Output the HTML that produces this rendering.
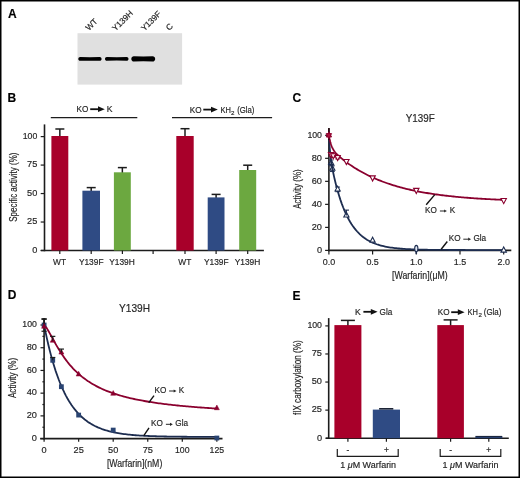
<!DOCTYPE html>
<html><head><meta charset="utf-8"><style>
html,body{margin:0;padding:0;background:#fff;}
svg{display:block;font-family:"Liberation Sans", sans-serif;}
#wrap{width:520px;height:478px;will-change:transform;}
text{stroke:#262626;stroke-width:0.18px;}
</style></head><body><div id="wrap">
<svg width="520" height="478" viewBox="0 0 520 478">
<defs><filter id="soft" x="-10%" y="-50%" width="120%" height="200%"><feGaussianBlur stdDeviation="0.35"/></filter></defs>
<rect width="520" height="478" fill="#fff"/>
<rect x="0.75" y="0.75" width="518.5" height="476.5" fill="none" stroke="#000" stroke-width="1.5"/>
<text x="8" y="18" font-size="12" font-weight="bold" fill="#000">A</text>
<text x="7.6" y="101.5" font-size="12" font-weight="bold" fill="#000">B</text>
<text x="292.5" y="101.6" font-size="12" font-weight="bold" fill="#000">C</text>
<text x="7.8" y="299.4" font-size="12" font-weight="bold" fill="#000">D</text>
<text x="292.4" y="299.6" font-size="12" font-weight="bold" fill="#000">E</text>
<rect x="77.5" y="33.2" width="104.6" height="51.4" fill="#e0e0e0"/>
<path d="M78.3,58.95 C78.3,57.932500000000005 79.1325,57.1 80.14999999999999,57.1 Q89.94999999999999,57.34 99.75,57.1 C100.7675,57.1 101.6,57.932500000000005 101.6,58.95 C101.6,59.9675 100.7675,60.800000000000004 99.75,60.800000000000004 Q89.94999999999999,60.56 80.14999999999999,60.800000000000004 C79.1325,60.800000000000004 78.3,59.9675 78.3,58.95 Z" fill="#050505" filter="url(#soft)"/>
<path d="M105.0,58.9 C105.0,57.91 105.81,57.1 106.8,57.1 Q116.75,57.339999999999996 126.7,57.1 C127.69,57.1 128.5,57.91 128.5,58.9 C128.5,59.89 127.69,60.699999999999996 126.7,60.699999999999996 Q116.75,60.46 106.8,60.699999999999996 C105.81,60.699999999999996 105.0,59.89 105.0,58.9 Z" fill="#050505" filter="url(#soft)"/>
<path d="M131.3,58.9 C131.3,57.47 132.47,56.3 133.9,56.3 Q143.25,56.62 152.6,56.3 C154.03,56.3 155.2,57.47 155.2,58.9 C155.2,60.33 154.03,61.5 152.6,61.5 Q143.25,61.18 133.9,61.5 C132.47,61.5 131.3,60.33 131.3,58.9 Z" fill="#050505" filter="url(#soft)"/>
<text transform="translate(89.0,31.0) rotate(-45)" font-size="8.3" fill="#262626">WT</text>
<text transform="translate(115.6,31.6) rotate(-45)" font-size="8.3" fill="#262626">Y139H</text>
<text transform="translate(144.4,31.6) rotate(-45)" font-size="8.3" fill="#262626">Y139F</text>
<text transform="translate(169.2,31.0) rotate(-45)" font-size="8.3" fill="#262626">C</text>
<line x1="44.5" y1="124.4" x2="44.5" y2="251.25" stroke="#1c1c1c" stroke-width="1.6"/>
<line x1="40.7" y1="250.5" x2="263.9" y2="250.5" stroke="#1c1c1c" stroke-width="1.6"/>
<line x1="40.7" y1="250.5" x2="44.5" y2="250.5" stroke="#1c1c1c" stroke-width="1.2"/>
<text x="37.3" y="252.8" font-size="9.2" text-anchor="end" fill="#262626" textLength="5.12" lengthAdjust="spacingAndGlyphs">0</text>
<line x1="40.7" y1="222.025" x2="44.5" y2="222.025" stroke="#1c1c1c" stroke-width="1.2"/>
<text x="37.3" y="224.33" font-size="9.2" text-anchor="end" fill="#262626" textLength="10.23" lengthAdjust="spacingAndGlyphs">25</text>
<line x1="40.7" y1="193.55" x2="44.5" y2="193.55" stroke="#1c1c1c" stroke-width="1.2"/>
<text x="37.3" y="195.85" font-size="9.2" text-anchor="end" fill="#262626" textLength="10.23" lengthAdjust="spacingAndGlyphs">50</text>
<line x1="40.7" y1="165.075" x2="44.5" y2="165.075" stroke="#1c1c1c" stroke-width="1.2"/>
<text x="37.3" y="167.38" font-size="9.2" text-anchor="end" fill="#262626" textLength="10.23" lengthAdjust="spacingAndGlyphs">75</text>
<line x1="40.7" y1="136.6" x2="44.5" y2="136.6" stroke="#1c1c1c" stroke-width="1.2"/>
<text x="37.3" y="138.9" font-size="9.2" text-anchor="end" fill="#262626" textLength="14.58" lengthAdjust="spacingAndGlyphs">100</text>
<line x1="59.849999999999994" y1="129.0" x2="59.849999999999994" y2="137.0" stroke="#1c1c1c" stroke-width="1.5"/>
<line x1="55.349999999999994" y1="129.0" x2="64.35" y2="129.0" stroke="#1c1c1c" stroke-width="1.5"/>
<rect x="51.4" y="136.0" width="16.9" height="114.5" fill="#a8002a"/>
<line x1="91.2" y1="187.6" x2="91.2" y2="191.7" stroke="#1c1c1c" stroke-width="1.5"/>
<line x1="86.7" y1="187.6" x2="95.7" y2="187.6" stroke="#1c1c1c" stroke-width="1.5"/>
<rect x="82.4" y="190.7" width="17.6" height="59.8" fill="#2f4b84"/>
<line x1="122.35000000000001" y1="167.6" x2="122.35000000000001" y2="173.3" stroke="#1c1c1c" stroke-width="1.5"/>
<line x1="117.85000000000001" y1="167.6" x2="126.85000000000001" y2="167.6" stroke="#1c1c1c" stroke-width="1.5"/>
<rect x="113.9" y="172.3" width="16.9" height="78.2" fill="#6ca840"/>
<line x1="185.0" y1="128.7" x2="185.0" y2="137.0" stroke="#1c1c1c" stroke-width="1.5"/>
<line x1="180.5" y1="128.7" x2="189.5" y2="128.7" stroke="#1c1c1c" stroke-width="1.5"/>
<rect x="176.3" y="136.0" width="17.4" height="114.5" fill="#a8002a"/>
<line x1="216.1" y1="194.4" x2="216.1" y2="198.4" stroke="#1c1c1c" stroke-width="1.5"/>
<line x1="211.6" y1="194.4" x2="220.6" y2="194.4" stroke="#1c1c1c" stroke-width="1.5"/>
<rect x="207.7" y="197.4" width="16.8" height="53.1" fill="#2f4b84"/>
<line x1="247.7" y1="165.2" x2="247.7" y2="171.0" stroke="#1c1c1c" stroke-width="1.5"/>
<line x1="243.2" y1="165.2" x2="252.2" y2="165.2" stroke="#1c1c1c" stroke-width="1.5"/>
<rect x="239.2" y="170.0" width="17.0" height="80.5" fill="#6ca840"/>
<line x1="59.8" y1="250.5" x2="59.8" y2="254.0" stroke="#1c1c1c" stroke-width="1.2"/>
<line x1="91.2" y1="250.5" x2="91.2" y2="254.0" stroke="#1c1c1c" stroke-width="1.2"/>
<line x1="122.4" y1="250.5" x2="122.4" y2="254.0" stroke="#1c1c1c" stroke-width="1.2"/>
<line x1="153.1" y1="250.5" x2="153.1" y2="254.0" stroke="#1c1c1c" stroke-width="1.2"/>
<line x1="185.0" y1="250.5" x2="185.0" y2="254.0" stroke="#1c1c1c" stroke-width="1.2"/>
<line x1="216.1" y1="250.5" x2="216.1" y2="254.0" stroke="#1c1c1c" stroke-width="1.2"/>
<line x1="247.7" y1="250.5" x2="247.7" y2="254.0" stroke="#1c1c1c" stroke-width="1.2"/>
<text x="59.6" y="264.8" font-size="8.8" text-anchor="middle" fill="#262626" textLength="13.0" lengthAdjust="spacingAndGlyphs">WT</text>
<text x="91.2" y="264.8" font-size="8.8" text-anchor="middle" fill="#262626" textLength="24.63" lengthAdjust="spacingAndGlyphs">Y139F</text>
<text x="122.0" y="264.8" font-size="8.8" text-anchor="middle" fill="#262626" textLength="25.56" lengthAdjust="spacingAndGlyphs">Y139H</text>
<text x="184.8" y="264.8" font-size="8.8" text-anchor="middle" fill="#262626" textLength="13.0" lengthAdjust="spacingAndGlyphs">WT</text>
<text x="216.3" y="264.8" font-size="8.8" text-anchor="middle" fill="#262626" textLength="24.63" lengthAdjust="spacingAndGlyphs">Y139F</text>
<text x="247.5" y="264.8" font-size="8.8" text-anchor="middle" fill="#262626" textLength="25.56" lengthAdjust="spacingAndGlyphs">Y139H</text>
<line x1="50.8" y1="117.7" x2="137.3" y2="117.7" stroke="#1c1c1c" stroke-width="1.3"/>
<line x1="172" y1="117.7" x2="272.1" y2="117.7" stroke="#1c1c1c" stroke-width="1.3"/>
<text x="76.6" y="112.2" font-size="8.6" fill="#262626" textLength="11.8" lengthAdjust="spacingAndGlyphs">KO</text>
<line x1="90.2" y1="109.2" x2="98.5" y2="109.2" stroke="#111" stroke-width="1.8"/>
<polygon points="98.0,106.3 104.8,109.2 98.0,112.10000000000001" fill="#111"/>
<text x="106.7" y="112.2" font-size="8.6" fill="#262626">K</text>
<text x="189.8" y="112.6" font-size="8.6" fill="#262626" textLength="11.8" lengthAdjust="spacingAndGlyphs">KO</text>
<line x1="203.3" y1="109.6" x2="211.5" y2="109.6" stroke="#111" stroke-width="1.8"/>
<polygon points="211.0,106.69999999999999 217.8,109.6 211.0,112.5" fill="#111"/>
<text x="220.6" y="112.6" font-size="8.6" fill="#262626" textLength="10.4" lengthAdjust="spacingAndGlyphs">KH</text>
<text x="231.1" y="115.0" font-size="6.2" fill="#262626">2</text>
<text x="237.2" y="112.6" font-size="8.6" fill="#262626" textLength="17.2" lengthAdjust="spacingAndGlyphs">(Gla)</text>
<text transform="translate(16.9,187.2) rotate(-90)" font-size="10.3" text-anchor="middle" fill="#262626" textLength="69.3" lengthAdjust="spacingAndGlyphs">Specific activity (%)</text>
<line x1="328.9" y1="128.0" x2="328.9" y2="251.20000000000002" stroke="#1c1c1c" stroke-width="1.6"/>
<line x1="328.09999999999997" y1="250.4" x2="511.3" y2="250.4" stroke="#1c1c1c" stroke-width="1.6"/>
<line x1="325.1" y1="250.4" x2="328.9" y2="250.4" stroke="#1c1c1c" stroke-width="1.2"/>
<text x="322.0" y="252.7" font-size="9.2" text-anchor="end" fill="#262626" textLength="5.12" lengthAdjust="spacingAndGlyphs">0</text>
<line x1="325.1" y1="227.38" x2="328.9" y2="227.38" stroke="#1c1c1c" stroke-width="1.2"/>
<text x="322.0" y="229.68" font-size="9.2" text-anchor="end" fill="#262626" textLength="10.23" lengthAdjust="spacingAndGlyphs">20</text>
<line x1="325.1" y1="204.36" x2="328.9" y2="204.36" stroke="#1c1c1c" stroke-width="1.2"/>
<text x="322.0" y="206.66" font-size="9.2" text-anchor="end" fill="#262626" textLength="10.23" lengthAdjust="spacingAndGlyphs">40</text>
<line x1="325.1" y1="181.34" x2="328.9" y2="181.34" stroke="#1c1c1c" stroke-width="1.2"/>
<text x="322.0" y="183.64" font-size="9.2" text-anchor="end" fill="#262626" textLength="10.23" lengthAdjust="spacingAndGlyphs">60</text>
<line x1="325.1" y1="158.32" x2="328.9" y2="158.32" stroke="#1c1c1c" stroke-width="1.2"/>
<text x="322.0" y="160.62" font-size="9.2" text-anchor="end" fill="#262626" textLength="10.23" lengthAdjust="spacingAndGlyphs">80</text>
<line x1="325.1" y1="135.3" x2="328.9" y2="135.3" stroke="#1c1c1c" stroke-width="1.2"/>
<text x="322.0" y="137.6" font-size="9.2" text-anchor="end" fill="#262626" textLength="14.58" lengthAdjust="spacingAndGlyphs">100</text>
<line x1="328.9" y1="250.4" x2="328.9" y2="254.4" stroke="#1c1c1c" stroke-width="1.2"/>
<text x="328.9" y="264.8" font-size="9.2" text-anchor="middle" fill="#262626" textLength="12.41" lengthAdjust="spacingAndGlyphs">0.0</text>
<line x1="372.59999999999997" y1="250.4" x2="372.59999999999997" y2="254.4" stroke="#1c1c1c" stroke-width="1.2"/>
<text x="372.6" y="264.8" font-size="9.2" text-anchor="middle" fill="#262626" textLength="12.41" lengthAdjust="spacingAndGlyphs">0.5</text>
<line x1="416.29999999999995" y1="250.4" x2="416.29999999999995" y2="254.4" stroke="#1c1c1c" stroke-width="1.2"/>
<text x="416.3" y="264.8" font-size="9.2" text-anchor="middle" fill="#262626" textLength="12.41" lengthAdjust="spacingAndGlyphs">1.0</text>
<line x1="460.0" y1="250.4" x2="460.0" y2="254.4" stroke="#1c1c1c" stroke-width="1.2"/>
<text x="460.0" y="264.8" font-size="9.2" text-anchor="middle" fill="#262626" textLength="12.41" lengthAdjust="spacingAndGlyphs">1.5</text>
<line x1="503.7" y1="250.4" x2="503.7" y2="254.4" stroke="#1c1c1c" stroke-width="1.2"/>
<text x="503.7" y="264.8" font-size="9.2" text-anchor="middle" fill="#262626" textLength="12.41" lengthAdjust="spacingAndGlyphs">2.0</text>
<text x="419.9" y="279.1" font-size="10.4" text-anchor="middle" fill="#262626" textLength="55.7" lengthAdjust="spacingAndGlyphs">[Warfarin](μM)</text>
<text transform="translate(300.9,189.1) rotate(-90)" font-size="10.3" text-anchor="middle" fill="#262626" textLength="39.4" lengthAdjust="spacingAndGlyphs">Activity (%)</text>
<text x="420.2" y="122.4" font-size="11" text-anchor="middle" fill="#262626" textLength="29" lengthAdjust="spacingAndGlyphs">Y139F</text>
<path d="M328.90,135.30 L329.12,139.32 L329.35,142.84 L329.57,145.95 L329.80,148.71 L330.02,151.20 L330.24,153.44 L330.47,155.49 L330.69,157.38 L330.92,159.13 L331.14,160.76 L331.37,162.29 L331.59,163.74 L331.81,165.12 L332.04,166.44 L332.26,167.71 L332.49,168.93 L332.71,170.11 L332.93,171.26 L333.16,172.38 L333.38,173.46 L333.61,174.53 L333.83,175.57 L334.05,176.59 L334.28,177.58 L334.50,178.57 L334.73,179.53 L334.95,180.48 L335.17,181.41 L335.40,182.33 L335.62,183.23 L335.85,184.12 L336.07,185.00 L336.30,185.87 L336.52,186.72 L336.74,187.56 L336.97,188.39 L337.19,189.21 L337.42,190.01 L337.64,190.81 L339.04,195.53 L340.43,199.87 L341.83,203.86 L343.22,207.53 L344.62,210.92 L346.01,214.03 L347.41,216.90 L348.80,219.54 L350.20,221.96 L351.59,224.20 L352.99,226.25 L354.39,228.15 L355.78,229.89 L357.18,231.50 L358.57,232.97 L359.97,234.33 L361.36,235.58 L362.76,236.73 L364.15,237.79 L365.55,238.77 L366.94,239.67 L368.34,240.49 L369.74,241.25 L371.13,241.95 L372.53,242.60 L373.92,243.19 L375.32,243.74 L376.71,244.24 L378.11,244.70 L379.50,245.13 L380.90,245.52 L382.29,245.88 L383.69,246.21 L385.09,246.52 L386.48,246.80 L387.88,247.06 L389.27,247.30 L390.67,247.52 L392.06,247.72 L393.46,247.90 L394.85,248.08 L396.25,248.23 L397.64,248.38 L399.04,248.51 L400.44,248.63 L401.83,248.75 L403.23,248.85 L404.62,248.95 L406.02,249.04 L407.41,249.12 L408.81,249.19 L410.20,249.26 L411.60,249.32 L412.99,249.38 L414.39,249.43 L415.79,249.48 L417.18,249.53 L418.58,249.57 L419.97,249.61 L421.37,249.65 L422.76,249.68 L424.16,249.71 L425.55,249.74 L426.95,249.76 L428.35,249.78 L429.74,249.81 L431.14,249.83 L432.53,249.84 L433.93,249.86 L435.32,249.88 L436.72,249.89 L438.11,249.90 L439.51,249.92 L440.90,249.93 L442.30,249.94 L443.70,249.95 L445.09,249.95 L446.49,249.96 L447.88,249.97 L449.28,249.98 L450.67,249.98 L452.07,249.99 L453.46,249.99 L454.86,250.00 L456.25,250.00 L457.65,250.01 L459.05,250.01 L460.44,250.01 L461.84,250.02 L463.23,250.02 L464.63,250.02 L466.02,250.03 L467.42,250.03 L468.81,250.03 L470.21,250.03 L471.60,250.03 L473.00,250.04 L474.40,250.04 L475.79,250.04 L477.19,250.04 L478.58,250.04 L479.98,250.04 L481.37,250.04 L482.77,250.04 L484.16,250.04 L485.56,250.05 L486.95,250.05 L488.35,250.05 L489.75,250.05 L491.14,250.05 L492.54,250.05 L493.93,250.05 L495.33,250.05 L496.72,250.05 L498.12,250.05 L499.51,250.05 L500.91,250.05 L502.30,250.05 L503.70,250.05" fill="none" stroke="#1d2d50" stroke-width="1.8" stroke-linejoin="round" stroke-linecap="round"/>
<path d="M328.90,135.30 L329.12,136.60 L329.35,137.80 L329.57,138.91 L329.80,139.94 L330.02,140.89 L330.24,141.78 L330.47,142.60 L330.69,143.37 L330.92,144.09 L331.14,144.76 L331.37,145.39 L331.59,145.98 L331.81,146.53 L332.04,147.06 L332.26,147.55 L332.49,148.02 L332.71,148.46 L332.93,148.89 L333.16,149.29 L333.38,149.67 L333.61,150.04 L333.83,150.39 L334.05,150.72 L334.28,151.05 L334.50,151.36 L334.73,151.66 L334.95,151.96 L335.17,152.24 L335.40,152.51 L335.62,152.78 L335.85,153.04 L336.07,153.30 L336.30,153.55 L336.52,153.79 L336.74,154.03 L336.97,154.26 L337.19,154.49 L337.42,154.71 L337.64,154.94 L339.04,156.25 L340.43,157.48 L341.83,158.64 L343.22,159.76 L344.62,160.85 L346.01,161.90 L347.41,162.92 L348.80,163.92 L350.20,164.88 L351.59,165.83 L352.99,166.75 L354.39,167.64 L355.78,168.52 L357.18,169.37 L358.57,170.20 L359.97,171.00 L361.36,171.79 L362.76,172.56 L364.15,173.31 L365.55,174.04 L366.94,174.75 L368.34,175.44 L369.74,176.12 L371.13,176.77 L372.53,177.41 L373.92,178.04 L375.32,178.65 L376.71,179.24 L378.11,179.82 L379.50,180.39 L380.90,180.94 L382.29,181.47 L383.69,181.99 L385.09,182.50 L386.48,183.00 L387.88,183.48 L389.27,183.95 L390.67,184.41 L392.06,184.86 L393.46,185.30 L394.85,185.72 L396.25,186.14 L397.64,186.54 L399.04,186.93 L400.44,187.32 L401.83,187.69 L403.23,188.06 L404.62,188.41 L406.02,188.76 L407.41,189.10 L408.81,189.42 L410.20,189.75 L411.60,190.06 L412.99,190.36 L414.39,190.66 L415.79,190.95 L417.18,191.23 L418.58,191.51 L419.97,191.77 L421.37,192.03 L422.76,192.29 L424.16,192.54 L425.55,192.78 L426.95,193.01 L428.35,193.24 L429.74,193.47 L431.14,193.69 L432.53,193.90 L433.93,194.11 L435.32,194.31 L436.72,194.50 L438.11,194.70 L439.51,194.88 L440.90,195.06 L442.30,195.24 L443.70,195.42 L445.09,195.58 L446.49,195.75 L447.88,195.91 L449.28,196.07 L450.67,196.22 L452.07,196.37 L453.46,196.51 L454.86,196.65 L456.25,196.79 L457.65,196.92 L459.05,197.05 L460.44,197.18 L461.84,197.30 L463.23,197.43 L464.63,197.54 L466.02,197.66 L467.42,197.77 L468.81,197.88 L470.21,197.98 L471.60,198.09 L473.00,198.19 L474.40,198.29 L475.79,198.38 L477.19,198.48 L478.58,198.57 L479.98,198.66 L481.37,198.74 L482.77,198.83 L484.16,198.91 L485.56,198.99 L486.95,199.07 L488.35,199.14 L489.75,199.22 L491.14,199.29 L492.54,199.36 L493.93,199.43 L495.33,199.50 L496.72,199.56 L498.12,199.63 L499.51,199.69 L500.91,199.75 L502.30,199.81 L503.70,199.86" fill="none" stroke="#8a002e" stroke-width="1.8" stroke-linejoin="round" stroke-linecap="round"/>
<line x1="331.08" y1="160.05" x2="331.08" y2="165.8" stroke="#1d2d50" stroke-width="1.0"/>
<line x1="328.68" y1="160.05" x2="333.47999999999996" y2="160.05" stroke="#1d2d50" stroke-width="1.0"/>
<line x1="328.68" y1="165.8" x2="333.47999999999996" y2="165.8" stroke="#1d2d50" stroke-width="1.0"/>
<polygon points="328.58,164.51 333.58,164.51 331.08,159.76" fill="none" stroke="#1d2d50" stroke-width="1.1"/>
<line x1="332.4" y1="165.8" x2="332.4" y2="171.56" stroke="#1d2d50" stroke-width="1.0"/>
<line x1="330.0" y1="165.8" x2="334.79999999999995" y2="165.8" stroke="#1d2d50" stroke-width="1.0"/>
<line x1="330.0" y1="171.56" x2="334.79999999999995" y2="171.56" stroke="#1d2d50" stroke-width="1.0"/>
<polygon points="329.90,170.26 334.90,170.26 332.40,165.51" fill="none" stroke="#1d2d50" stroke-width="1.1"/>
<line x1="337.64" y1="187.09" x2="337.64" y2="191.7" stroke="#1d2d50" stroke-width="1.0"/>
<line x1="335.24" y1="187.09" x2="340.03999999999996" y2="187.09" stroke="#1d2d50" stroke-width="1.0"/>
<line x1="335.24" y1="191.7" x2="340.03999999999996" y2="191.7" stroke="#1d2d50" stroke-width="1.0"/>
<polygon points="335.04,191.04 340.24,191.04 337.64,186.10" fill="white" stroke="#1d2d50" stroke-width="1.1"/>
<polygon points="343.78,217.06 348.98,217.06 346.38,212.12" fill="white" stroke="#1d2d50" stroke-width="1.1"/>
<polygon points="370.00,242.15 375.20,242.15 372.60,237.21" fill="white" stroke="#1d2d50" stroke-width="1.1"/>
<polygon points="501.00,252.11 506.40,252.11 503.70,246.98" fill="white" stroke="#1d2d50" stroke-width="1.1"/>
<ellipse cx="416.30" cy="248.60" rx="1.6" ry="3.2" fill="#dfe6f2" stroke="#1d2d50" stroke-width="1.1"/>
<line x1="416.3" y1="251.9" x2="416.3" y2="253.8" stroke="#1d2d50" stroke-width="1.6"/>
<line x1="346.38" y1="215.41" x2="346.38" y2="210.12" stroke="#1d2d50" stroke-width="1.1"/>
<line x1="343.78" y1="210.12" x2="348.98" y2="210.12" stroke="#1d2d50" stroke-width="1.1"/>
<line x1="328.9" y1="128.2" x2="328.9" y2="139.90400000000002" stroke="#2a0a14" stroke-width="1.6"/>
<polygon points="326.20,137.01 331.60,137.01 328.90,131.88" fill="#b0103c" stroke="#8a002e" stroke-width="0.9"/>
<polygon points="326.20,133.59 331.60,133.59 328.90,138.72" fill="#b0103c" stroke="#8a002e" stroke-width="0.9"/>
<line x1="331.08" y1="152.56" x2="331.08" y2="156.02" stroke="#8a002e" stroke-width="1.0"/>
<line x1="328.68" y1="152.56" x2="333.47999999999996" y2="152.56" stroke="#8a002e" stroke-width="1.0"/>
<line x1="328.68" y1="156.02" x2="333.47999999999996" y2="156.02" stroke="#8a002e" stroke-width="1.0"/>
<polygon points="328.38,152.58 333.78,152.58 331.08,157.71" fill="#fbe8ec" stroke="#8a002e" stroke-width="1.1"/>
<line x1="333.27" y1="153.72" x2="333.27" y2="157.17" stroke="#8a002e" stroke-width="1.0"/>
<line x1="330.87" y1="153.72" x2="335.66999999999996" y2="153.72" stroke="#8a002e" stroke-width="1.0"/>
<line x1="330.87" y1="157.17" x2="335.66999999999996" y2="157.17" stroke="#8a002e" stroke-width="1.0"/>
<polygon points="330.57,153.73 335.97,153.73 333.27,158.86" fill="#fbe8ec" stroke="#8a002e" stroke-width="1.1"/>
<line x1="337.64" y1="155.44" x2="337.64" y2="158.9" stroke="#8a002e" stroke-width="1.0"/>
<line x1="335.24" y1="155.44" x2="340.03999999999996" y2="155.44" stroke="#8a002e" stroke-width="1.0"/>
<line x1="335.24" y1="158.9" x2="340.03999999999996" y2="158.9" stroke="#8a002e" stroke-width="1.0"/>
<polygon points="334.94,155.46 340.34,155.46 337.64,160.59" fill="#fbe8ec" stroke="#8a002e" stroke-width="1.1"/>
<polygon points="343.68,159.49 349.08,159.49 346.38,164.62" fill="white" stroke="#8a002e" stroke-width="1.1"/>
<polygon points="369.90,175.83 375.30,175.83 372.60,180.96" fill="white" stroke="#8a002e" stroke-width="1.1"/>
<polygon points="413.60,188.38 419.00,188.38 416.30,193.51" fill="white" stroke="#8a002e" stroke-width="1.1"/>
<polygon points="501.00,198.51 506.40,198.51 503.70,203.64" fill="white" stroke="#8a002e" stroke-width="1.1"/>
<line x1="434.8" y1="194.6" x2="426.2" y2="204.8" stroke="#111" stroke-width="1.4"/>
<text x="425.0" y="212.9" font-size="8.8" fill="#262626" textLength="11.82" lengthAdjust="spacingAndGlyphs">KO</text>
<line x1="439.9" y1="211.0" x2="444.7" y2="211.0" stroke="#262626" stroke-width="1.0"/>
<polygon points="444.09999999999997,209.4 446.9,211.0 444.09999999999997,212.6" fill="#262626"/>
<text x="449.8" y="212.9" font-size="8.8" fill="#262626" textLength="5.46" lengthAdjust="spacingAndGlyphs">K</text>
<line x1="441.2" y1="249.3" x2="447.3" y2="241.5" stroke="#111" stroke-width="1.4"/>
<text x="448.8" y="241.2" font-size="8.8" fill="#262626" textLength="11.82" lengthAdjust="spacingAndGlyphs">KO</text>
<line x1="463.3" y1="239.2" x2="468.8" y2="239.2" stroke="#262626" stroke-width="1.0"/>
<polygon points="468.2,237.6 471.0,239.2 468.2,240.79999999999998" fill="#262626"/>
<text x="473.4" y="241.2" font-size="8.8" fill="#262626" textLength="12.74" lengthAdjust="spacingAndGlyphs">Gla</text>
<line x1="44.1" y1="318.0" x2="44.1" y2="439.40000000000003" stroke="#1c1c1c" stroke-width="1.6"/>
<line x1="40.2" y1="438.6" x2="222.5" y2="438.6" stroke="#1c1c1c" stroke-width="1.6"/>
<line x1="40.5" y1="438.6" x2="44.1" y2="438.6" stroke="#1c1c1c" stroke-width="1.2"/>
<text x="36.9" y="440.9" font-size="9.2" text-anchor="end" fill="#262626" textLength="5.12" lengthAdjust="spacingAndGlyphs">0</text>
<line x1="42.4" y1="427.24" x2="44.1" y2="427.24" stroke="#1c1c1c" stroke-width="1.2"/>
<line x1="40.5" y1="415.88" x2="44.1" y2="415.88" stroke="#1c1c1c" stroke-width="1.2"/>
<text x="36.9" y="418.18" font-size="9.2" text-anchor="end" fill="#262626" textLength="10.23" lengthAdjust="spacingAndGlyphs">20</text>
<line x1="42.4" y1="404.52" x2="44.1" y2="404.52" stroke="#1c1c1c" stroke-width="1.2"/>
<line x1="40.5" y1="393.16" x2="44.1" y2="393.16" stroke="#1c1c1c" stroke-width="1.2"/>
<text x="36.9" y="395.46" font-size="9.2" text-anchor="end" fill="#262626" textLength="10.23" lengthAdjust="spacingAndGlyphs">40</text>
<line x1="42.4" y1="381.8" x2="44.1" y2="381.8" stroke="#1c1c1c" stroke-width="1.2"/>
<line x1="40.5" y1="370.44" x2="44.1" y2="370.44" stroke="#1c1c1c" stroke-width="1.2"/>
<text x="36.9" y="372.74" font-size="9.2" text-anchor="end" fill="#262626" textLength="10.23" lengthAdjust="spacingAndGlyphs">60</text>
<line x1="42.4" y1="359.08" x2="44.1" y2="359.08" stroke="#1c1c1c" stroke-width="1.2"/>
<line x1="40.5" y1="347.72" x2="44.1" y2="347.72" stroke="#1c1c1c" stroke-width="1.2"/>
<text x="36.9" y="350.02" font-size="9.2" text-anchor="end" fill="#262626" textLength="10.23" lengthAdjust="spacingAndGlyphs">80</text>
<line x1="42.4" y1="336.36" x2="44.1" y2="336.36" stroke="#1c1c1c" stroke-width="1.2"/>
<line x1="40.5" y1="325.0" x2="44.1" y2="325.0" stroke="#1c1c1c" stroke-width="1.2"/>
<text x="36.9" y="327.3" font-size="9.2" text-anchor="end" fill="#262626" textLength="14.58" lengthAdjust="spacingAndGlyphs">100</text>
<line x1="44.1" y1="438.6" x2="44.1" y2="441.8" stroke="#1c1c1c" stroke-width="1.2"/>
<text x="44.1" y="452.6" font-size="9.2" text-anchor="middle" fill="#262626" textLength="5.12" lengthAdjust="spacingAndGlyphs">0</text>
<line x1="78.65" y1="438.6" x2="78.65" y2="441.8" stroke="#1c1c1c" stroke-width="1.2"/>
<text x="78.65" y="452.6" font-size="9.2" text-anchor="middle" fill="#262626" textLength="10.23" lengthAdjust="spacingAndGlyphs">25</text>
<line x1="113.2" y1="438.6" x2="113.2" y2="441.8" stroke="#1c1c1c" stroke-width="1.2"/>
<text x="113.2" y="452.6" font-size="9.2" text-anchor="middle" fill="#262626" textLength="10.23" lengthAdjust="spacingAndGlyphs">50</text>
<line x1="147.75" y1="438.6" x2="147.75" y2="441.8" stroke="#1c1c1c" stroke-width="1.2"/>
<text x="147.75" y="452.6" font-size="9.2" text-anchor="middle" fill="#262626" textLength="10.23" lengthAdjust="spacingAndGlyphs">75</text>
<line x1="182.3" y1="438.6" x2="182.3" y2="441.8" stroke="#1c1c1c" stroke-width="1.2"/>
<text x="182.3" y="452.6" font-size="9.2" text-anchor="middle" fill="#262626" textLength="14.58" lengthAdjust="spacingAndGlyphs">100</text>
<line x1="216.85" y1="438.6" x2="216.85" y2="441.8" stroke="#1c1c1c" stroke-width="1.2"/>
<text x="216.85" y="452.6" font-size="9.2" text-anchor="middle" fill="#262626" textLength="14.58" lengthAdjust="spacingAndGlyphs">125</text>
<text x="134.6" y="467.1" font-size="10.4" text-anchor="middle" fill="#262626" textLength="55.4" lengthAdjust="spacingAndGlyphs">[Warfarin](nM)</text>
<text transform="translate(16.1,377.9) rotate(-90)" font-size="10.3" text-anchor="middle" fill="#262626" textLength="40.2" lengthAdjust="spacingAndGlyphs">Activity (%)</text>
<text x="134.5" y="311.6" font-size="11" text-anchor="middle" fill="#262626" textLength="31" lengthAdjust="spacingAndGlyphs">Y139H</text>
<path d="M44.10,325.00 L45.55,332.19 L47.00,338.91 L48.46,345.21 L49.91,351.10 L51.36,356.61 L52.81,361.76 L54.26,366.59 L55.71,371.11 L57.17,375.33 L58.62,379.29 L60.07,382.99 L61.52,386.46 L62.97,389.70 L64.42,392.73 L65.88,395.57 L67.33,398.22 L68.78,400.71 L70.23,403.04 L71.68,405.21 L73.13,407.25 L74.59,409.16 L76.04,410.94 L77.49,412.61 L78.94,414.17 L80.39,415.63 L81.84,417.00 L83.30,418.28 L84.75,419.48 L86.20,420.60 L87.65,421.65 L89.10,422.63 L90.55,423.55 L92.01,424.41 L93.46,425.21 L94.91,425.97 L96.36,426.67 L97.81,427.33 L99.26,427.95 L100.72,428.53 L102.17,429.07 L103.62,429.57 L105.07,430.04 L106.52,430.49 L107.97,430.90 L109.43,431.29 L110.88,431.65 L112.33,431.99 L113.78,432.31 L115.23,432.61 L116.68,432.89 L118.14,433.15 L119.59,433.39 L121.04,433.62 L122.49,433.83 L123.94,434.03 L125.39,434.22 L126.85,434.39 L128.30,434.56 L129.75,434.71 L131.20,434.85 L132.65,434.99 L134.10,435.11 L135.56,435.23 L137.01,435.34 L138.46,435.44 L139.91,435.54 L141.36,435.63 L142.81,435.71 L144.27,435.79 L145.72,435.87 L147.17,435.93 L148.62,436.00 L150.07,436.06 L151.52,436.12 L152.98,436.17 L154.43,436.22 L155.88,436.27 L157.33,436.31 L158.78,436.35 L160.23,436.39 L161.69,436.42 L163.14,436.46 L164.59,436.49 L166.04,436.52 L167.49,436.54 L168.94,436.57 L170.40,436.59 L171.85,436.62 L173.30,436.64 L174.75,436.66 L176.20,436.67 L177.65,436.69 L179.11,436.71 L180.56,436.72 L182.01,436.74 L183.46,436.75 L184.91,436.76 L186.36,436.77 L187.82,436.78 L189.27,436.79 L190.72,436.80 L192.17,436.81 L193.62,436.82 L195.07,436.83 L196.53,436.84 L197.98,436.84 L199.43,436.85 L200.88,436.86 L202.33,436.86 L203.78,436.87 L205.24,436.87 L206.69,436.88 L208.14,436.88 L209.59,436.88 L211.04,436.89 L212.49,436.89 L213.95,436.89 L215.40,436.90 L216.85,436.90" fill="none" stroke="#1d2d50" stroke-width="1.8" stroke-linejoin="round" stroke-linecap="round"/>
<path d="M44.10,325.00 L45.55,326.46 L47.00,328.61 L48.46,331.05 L49.91,333.63 L51.36,336.27 L52.81,338.92 L54.26,341.55 L55.71,344.12 L57.17,346.63 L58.62,349.05 L60.07,351.39 L61.52,353.65 L62.97,355.81 L64.42,357.88 L65.88,359.86 L67.33,361.76 L68.78,363.57 L70.23,365.30 L71.68,366.95 L73.13,368.53 L74.59,370.03 L76.04,371.47 L77.49,372.84 L78.94,374.15 L80.39,375.40 L81.84,376.60 L83.30,377.75 L84.75,378.84 L86.20,379.89 L87.65,380.90 L89.10,381.86 L90.55,382.78 L92.01,383.66 L93.46,384.51 L94.91,385.33 L96.36,386.11 L97.81,386.86 L99.26,387.58 L100.72,388.28 L102.17,388.95 L103.62,389.59 L105.07,390.21 L106.52,390.81 L107.97,391.38 L109.43,391.94 L110.88,392.47 L112.33,392.99 L113.78,393.49 L115.23,393.97 L116.68,394.44 L118.14,394.89 L119.59,395.32 L121.04,395.75 L122.49,396.16 L123.94,396.55 L125.39,396.93 L126.85,397.31 L128.30,397.67 L129.75,398.02 L131.20,398.35 L132.65,398.68 L134.10,399.00 L135.56,399.31 L137.01,399.61 L138.46,399.91 L139.91,400.19 L141.36,400.47 L142.81,400.74 L144.27,401.00 L145.72,401.25 L147.17,401.50 L148.62,401.74 L150.07,401.98 L151.52,402.21 L152.98,402.43 L154.43,402.65 L155.88,402.86 L157.33,403.07 L158.78,403.27 L160.23,403.47 L161.69,403.66 L163.14,403.85 L164.59,404.03 L166.04,404.21 L167.49,404.39 L168.94,404.56 L170.40,404.72 L171.85,404.89 L173.30,405.05 L174.75,405.20 L176.20,405.36 L177.65,405.50 L179.11,405.65 L180.56,405.79 L182.01,405.93 L183.46,406.07 L184.91,406.21 L186.36,406.34 L187.82,406.47 L189.27,406.59 L190.72,406.71 L192.17,406.84 L193.62,406.95 L195.07,407.07 L196.53,407.19 L197.98,407.30 L199.43,407.41 L200.88,407.51 L202.33,407.62 L203.78,407.72 L205.24,407.83 L206.69,407.93 L208.14,408.02 L209.59,408.12 L211.04,408.21 L212.49,408.31 L213.95,408.40 L215.40,408.49 L216.85,408.58" fill="none" stroke="#8a002e" stroke-width="1.8" stroke-linejoin="round" stroke-linecap="round"/>
<rect x="41.7" y="322.6" width="4.8" height="4.8" fill="#2a4472"/>
<line x1="44.1" y1="325.0" x2="44.1" y2="319.32" stroke="#1c1c1c" stroke-width="1.2"/>
<line x1="41.5" y1="319.32" x2="46.7" y2="319.32" stroke="#1c1c1c" stroke-width="1.2"/>
<rect x="50.3375" y="357.92960000000005" width="4.8" height="4.8" fill="#2a4472"/>
<line x1="52.74" y1="360.33" x2="52.74" y2="357.49" stroke="#1c1c1c" stroke-width="1.2"/>
<line x1="50.14" y1="357.49" x2="55.34" y2="357.49" stroke="#1c1c1c" stroke-width="1.2"/>
<rect x="58.975" y="384.2848" width="4.8" height="4.8" fill="#2a4472"/>
<rect x="76.25" y="412.68480000000005" width="4.8" height="4.8" fill="#2a4472"/>
<rect x="110.79999999999998" y="427.68000000000006" width="4.8" height="4.8" fill="#2a4472"/>
<rect x="214.45" y="435.63200000000006" width="4.8" height="4.8" fill="#2a4472"/>
<line x1="44.1" y1="318.75" x2="44.1" y2="331.25" stroke="#1c1c1c" stroke-width="1.2"/>
<line x1="41.5" y1="318.75" x2="46.7" y2="318.75" stroke="#1c1c1c" stroke-width="1.2"/>
<line x1="41.5" y1="331.25" x2="46.7" y2="331.25" stroke="#1c1c1c" stroke-width="1.2"/>
<polygon points="41.60,328.29 46.60,328.29 44.10,323.54" fill="#8a002e" stroke="#8a002e" stroke-width="0.5"/>
<polygon points="50.24,342.26 55.24,342.26 52.74,337.51" fill="#8a002e" stroke="#8a002e" stroke-width="0.5"/>
<line x1="52.74" y1="340.68" x2="52.74" y2="336.36" stroke="#1c1c1c" stroke-width="1.2"/>
<line x1="50.14" y1="336.36" x2="55.34" y2="336.36" stroke="#1c1c1c" stroke-width="1.2"/>
<polygon points="58.88,354.07 63.88,354.07 61.38,349.32" fill="#8a002e" stroke="#8a002e" stroke-width="0.5"/>
<line x1="61.38" y1="352.49" x2="61.38" y2="349.08" stroke="#1c1c1c" stroke-width="1.2"/>
<line x1="58.78" y1="349.08" x2="63.98" y2="349.08" stroke="#1c1c1c" stroke-width="1.2"/>
<polygon points="76.15,376.00 81.15,376.00 78.65,371.25" fill="#8a002e" stroke="#8a002e" stroke-width="0.5"/>
<polygon points="110.70,395.31 115.70,395.31 113.20,390.56" fill="#8a002e" stroke="#8a002e" stroke-width="0.5"/>
<polygon points="214.35,409.74 219.35,409.74 216.85,404.99" fill="#8a002e" stroke="#8a002e" stroke-width="0.5"/>
<line x1="148.8" y1="402.6" x2="154.0" y2="395.6" stroke="#111" stroke-width="1.4"/>
<text x="154.6" y="392.8" font-size="8.8" fill="#262626" textLength="11.82" lengthAdjust="spacingAndGlyphs">KO</text>
<line x1="169.1" y1="391.0" x2="174.3" y2="391.0" stroke="#262626" stroke-width="1.0"/>
<polygon points="173.7,389.4 176.5,391.0 173.7,392.6" fill="#262626"/>
<text x="178.8" y="392.8" font-size="8.8" fill="#262626" textLength="5.46" lengthAdjust="spacingAndGlyphs">K</text>
<line x1="143.8" y1="435.6" x2="149.0" y2="427.8" stroke="#111" stroke-width="1.4"/>
<text x="151.0" y="426.0" font-size="8.8" fill="#262626" textLength="11.82" lengthAdjust="spacingAndGlyphs">KO</text>
<line x1="165.9" y1="424.3" x2="170.60000000000002" y2="424.3" stroke="#262626" stroke-width="1.0"/>
<polygon points="170.0,422.7 172.8,424.3 170.0,425.90000000000003" fill="#262626"/>
<text x="175.3" y="426.0" font-size="8.8" fill="#262626" textLength="12.74" lengthAdjust="spacingAndGlyphs">Gla</text>
<line x1="328.7" y1="318.1" x2="328.7" y2="439.0" stroke="#1c1c1c" stroke-width="1.6"/>
<line x1="326" y1="438.2" x2="508.8" y2="438.2" stroke="#1c1c1c" stroke-width="1.6"/>
<line x1="325.3" y1="438.2" x2="328.7" y2="438.2" stroke="#1c1c1c" stroke-width="1.2"/>
<text x="322.0" y="440.5" font-size="9.2" text-anchor="end" fill="#262626" textLength="5.12" lengthAdjust="spacingAndGlyphs">0</text>
<line x1="325.3" y1="410.125" x2="328.7" y2="410.125" stroke="#1c1c1c" stroke-width="1.2"/>
<text x="322.0" y="412.43" font-size="9.2" text-anchor="end" fill="#262626" textLength="10.23" lengthAdjust="spacingAndGlyphs">25</text>
<line x1="325.3" y1="382.04999999999995" x2="328.7" y2="382.04999999999995" stroke="#1c1c1c" stroke-width="1.2"/>
<text x="322.0" y="384.35" font-size="9.2" text-anchor="end" fill="#262626" textLength="10.23" lengthAdjust="spacingAndGlyphs">50</text>
<line x1="325.3" y1="353.975" x2="328.7" y2="353.975" stroke="#1c1c1c" stroke-width="1.2"/>
<text x="322.0" y="356.28" font-size="9.2" text-anchor="end" fill="#262626" textLength="10.23" lengthAdjust="spacingAndGlyphs">75</text>
<line x1="325.3" y1="325.9" x2="328.7" y2="325.9" stroke="#1c1c1c" stroke-width="1.2"/>
<text x="322.0" y="328.2" font-size="9.2" text-anchor="end" fill="#262626" textLength="14.58" lengthAdjust="spacingAndGlyphs">100</text>
<line x1="347.9" y1="320.4" x2="347.9" y2="326.1" stroke="#1c1c1c" stroke-width="1.5"/>
<line x1="340.9" y1="320.4" x2="354.9" y2="320.4" stroke="#1c1c1c" stroke-width="1.5"/>
<rect x="334.4" y="325.1" width="27.0" height="113.1" fill="#a8002a"/>
<rect x="372.8" y="409.6" width="27.2" height="28.6" fill="#2f4b84"/>
<line x1="450.6" y1="319.9" x2="450.6" y2="326.1" stroke="#1c1c1c" stroke-width="1.5"/>
<line x1="443.6" y1="319.9" x2="457.6" y2="319.9" stroke="#1c1c1c" stroke-width="1.5"/>
<rect x="437.3" y="325.1" width="26.6" height="113.1" fill="#a8002a"/>
<rect x="475.4" y="436.9" width="26.9" height="1.3" fill="#2f4b84"/>
<line x1="379.1" y1="408.8" x2="393.3" y2="408.8" stroke="#111a2c" stroke-width="1.5"/>
<line x1="475.4" y1="436.6" x2="502.3" y2="436.6" stroke="#1a2740" stroke-width="1.4"/>
<line x1="347.9" y1="438.2" x2="347.9" y2="441.8" stroke="#1c1c1c" stroke-width="1.2"/>
<line x1="386.4" y1="438.2" x2="386.4" y2="441.8" stroke="#1c1c1c" stroke-width="1.2"/>
<line x1="450.6" y1="438.2" x2="450.6" y2="441.8" stroke="#1c1c1c" stroke-width="1.2"/>
<line x1="488.8" y1="438.2" x2="488.8" y2="441.8" stroke="#1c1c1c" stroke-width="1.2"/>
<text x="347.9" y="453.0" font-size="8.4" text-anchor="middle" fill="#262626">-</text>
<text x="386.4" y="453.0" font-size="8.4" text-anchor="middle" fill="#262626">+</text>
<text x="450.6" y="453.0" font-size="8.4" text-anchor="middle" fill="#262626">-</text>
<text x="488.8" y="453.0" font-size="8.4" text-anchor="middle" fill="#262626">+</text>
<polyline points="337.3,449 337.3,456.4 398.2,456.4 398.2,449" fill="none" stroke="#1c1c1c" stroke-width="1.2"/>
<polyline points="440.2,449 440.2,456.4 500.8,456.4 500.8,449" fill="none" stroke="#1c1c1c" stroke-width="1.2"/>
<text x="340.3" y="467.8" font-size="9" fill="#262626" textLength="55.8" lengthAdjust="spacingAndGlyphs">1 <tspan font-style="italic">μ</tspan>M Warfarin</text>
<text x="442.6" y="467.8" font-size="9" fill="#262626" textLength="55.8" lengthAdjust="spacingAndGlyphs">1 <tspan font-style="italic">μ</tspan>M Warfarin</text>
<text x="355.0" y="314.8" font-size="8.6" fill="#262626">K</text>
<line x1="363.4" y1="311.8" x2="371.3" y2="311.8" stroke="#111" stroke-width="1.8"/>
<polygon points="370.8,308.90000000000003 377.6,311.8 370.8,314.7" fill="#111"/>
<text x="379.6" y="314.8" font-size="8.6" fill="#262626" textLength="12.71" lengthAdjust="spacingAndGlyphs">Gla</text>
<text x="437.7" y="315.2" font-size="8.6" fill="#262626" textLength="11.8" lengthAdjust="spacingAndGlyphs">KO</text>
<line x1="451.2" y1="312.2" x2="458.3" y2="312.2" stroke="#111" stroke-width="1.8"/>
<polygon points="457.8,309.3 464.6,312.2 457.8,315.09999999999997" fill="#111"/>
<text x="467.4" y="315.2" font-size="8.6" fill="#262626" textLength="10.4" lengthAdjust="spacingAndGlyphs">KH</text>
<text x="478.4" y="316.6" font-size="6.2" fill="#262626">2</text>
<text x="483.8" y="315.2" font-size="8.6" fill="#262626" textLength="17.6" lengthAdjust="spacingAndGlyphs">(Gla)</text>
<text transform="translate(300.8,377.7) rotate(-90)" font-size="10.3" text-anchor="middle" fill="#262626" textLength="74.8" lengthAdjust="spacingAndGlyphs">fIX carboxylation (%)</text>
</svg></div>
</body></html>
